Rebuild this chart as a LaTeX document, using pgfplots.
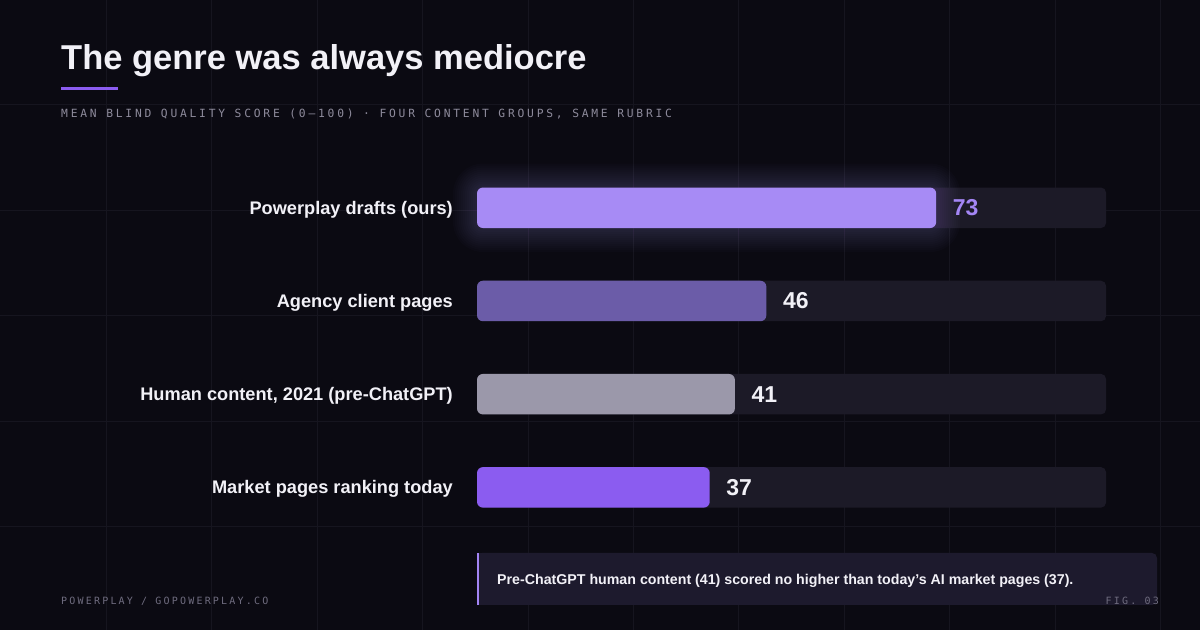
\documentclass[border=0pt]{standalone}
\usepackage{pgfplots}
\pgfplotsset{compat=1.18}
\usepackage{fontspec}
\setmainfont{Liberation Sans}
\newfontfamily\submono{DejaVu Sans Mono}[LetterSpace=24.5]
\newfontfamily\footmono{DejaVu Sans Mono}[LetterSpace=22]

\definecolor{bg}{HTML}{0B0A12}
\definecolor{gridc}{HTML}{16151F}
\definecolor{track}{HTML}{1C1A27}
\definecolor{barA}{HTML}{A78BF5}
\definecolor{barB}{HTML}{6B5CA8}
\definecolor{barC}{HTML}{9B98AA}
\definecolor{barD}{HTML}{8B5CF0}
\definecolor{glow}{HTML}{9484E0}
\definecolor{ink}{HTML}{F2F1F7}
\definecolor{muted}{HTML}{8E8B9C}
\definecolor{dim}{HTML}{6F6C7F}
\definecolor{note}{HTML}{1D1A2D}

\begin{document}
\begin{tikzpicture}
\begin{scope}[x=1bp,y=1bp]
\useasboundingbox (0,0) rectangle (1200,630);
\fill[bg] (0,0) rectangle (1200,630);
% faint background grid
\foreach \k in {0,...,10} \draw[gridc, line width=1bp] (106.5+105.4*\k,0) -- ++(0,630);
\foreach \k in {0,...,4} \draw[gridc, line width=1bp] (0,525-105.4*\k) -- ++(1200,0);

% title block
\node[anchor=base west, inner sep=0pt, text=ink, font=\fontsize{34.5bp}{40bp}\selectfont\bfseries]
  at (61,560) {The genre was always mediocre};
\fill[barD] (61,540.3) rectangle (118,543.3);
\node[anchor=base west, inner sep=0pt, text=muted, font=\submono\fontsize{11.3bp}{13bp}\selectfont]
  at (61,512.8) {MEAN BLIND QUALITY SCORE (0–100) · FOUR CONTENT GROUPS, SAME RUBRIC};
\end{scope}

\begin{axis}[
  at={(477bp,468.8bp)}, anchor=north west,
  scale only axis, width=629bp, height=372.8bp,
  xmin=0, xmax=100, ymin=-0.5, ymax=3.5, y dir=reverse,
  axis line style={draw=none}, major tick length=0pt,
  xtick=\empty, ytick={0,1,2,3},
  yticklabels={Powerplay drafts (ours), Agency client pages, {Human content, 2021 (pre-ChatGPT)}, Market pages ranking today},
  yticklabel style={font=\fontsize{18.2bp}{20bp}\selectfont\bfseries, text=ink,
    anchor=base east, inner sep=0pt, xshift=-24bp, yshift=-6.5bp},
  clip=false,
  /pgf/number format/assume math mode=true,
  every axis plot/.append style={xbar, bar width=40.5bp, bar shift=0pt, draw=none},
  nodes near coords style={font=\fontsize{23bp}{25bp}\selectfont\bfseries, text=ink,
    anchor=west, inner sep=0pt, xshift=16.5bp},
]
\addplot[fill=track, rounded corners=5bp] coordinates {(100,0) (100,1) (100,2) (100,3)};
% soft glow around the leading bar
\pgfplotsinvokeforeach{2,4,6,8,10,12,14,16,18,20,22,24}{
  \fill[glow, fill opacity=0.02, rounded corners=#1bp+6bp]
    ([shift={(-#1bp,-20.25bp-#1bp)}]axis cs:0,0) rectangle ([shift={(#1bp,20.25bp+#1bp)}]axis cs:73,0);
}
\addplot[fill=barA, rounded corners=6bp, point meta=x, nodes near coords, nodes near coords style={text=barA!90!barD}] coordinates {(73,0)};
\addplot[fill=barB, rounded corners=6bp, point meta=x, nodes near coords] coordinates {(46,1)};
\addplot[fill=barC, rounded corners=6bp, point meta=x, nodes near coords] coordinates {(41,2)};
\addplot[fill=barD, rounded corners=6bp, point meta=x, nodes near coords] coordinates {(37,3)};
\end{axis}

\begin{scope}[x=1bp,y=1bp]
% takeaway note
\fill[note, rounded corners=5bp] (477,25) rectangle (1157,77);
\fill[note] (477,25) rectangle (600,77);
\fill[barA!85!barD] (477,25) rectangle (479,77);
\node[anchor=base west, inner sep=0pt, text=ink, font=\fontsize{14.2bp}{16bp}\selectfont\bfseries]
  at (497,45.5) {Pre-ChatGPT human content (41) scored no higher than today{\char"27}s AI market pages (37).};

% footer
\node[anchor=base west, inner sep=0pt, text=dim, font=\footmono\fontsize{10bp}{12bp}\selectfont]
  at (61,25.7) {POWERPLAY / GOPOWERPLAY.CO};
\node[anchor=base east, inner sep=0pt, text=dim, font=\footmono\fontsize{10bp}{12bp}\selectfont]
  at (1159,25.7) {FIG. 03};
\end{scope}
\end{tikzpicture}
\end{document}
